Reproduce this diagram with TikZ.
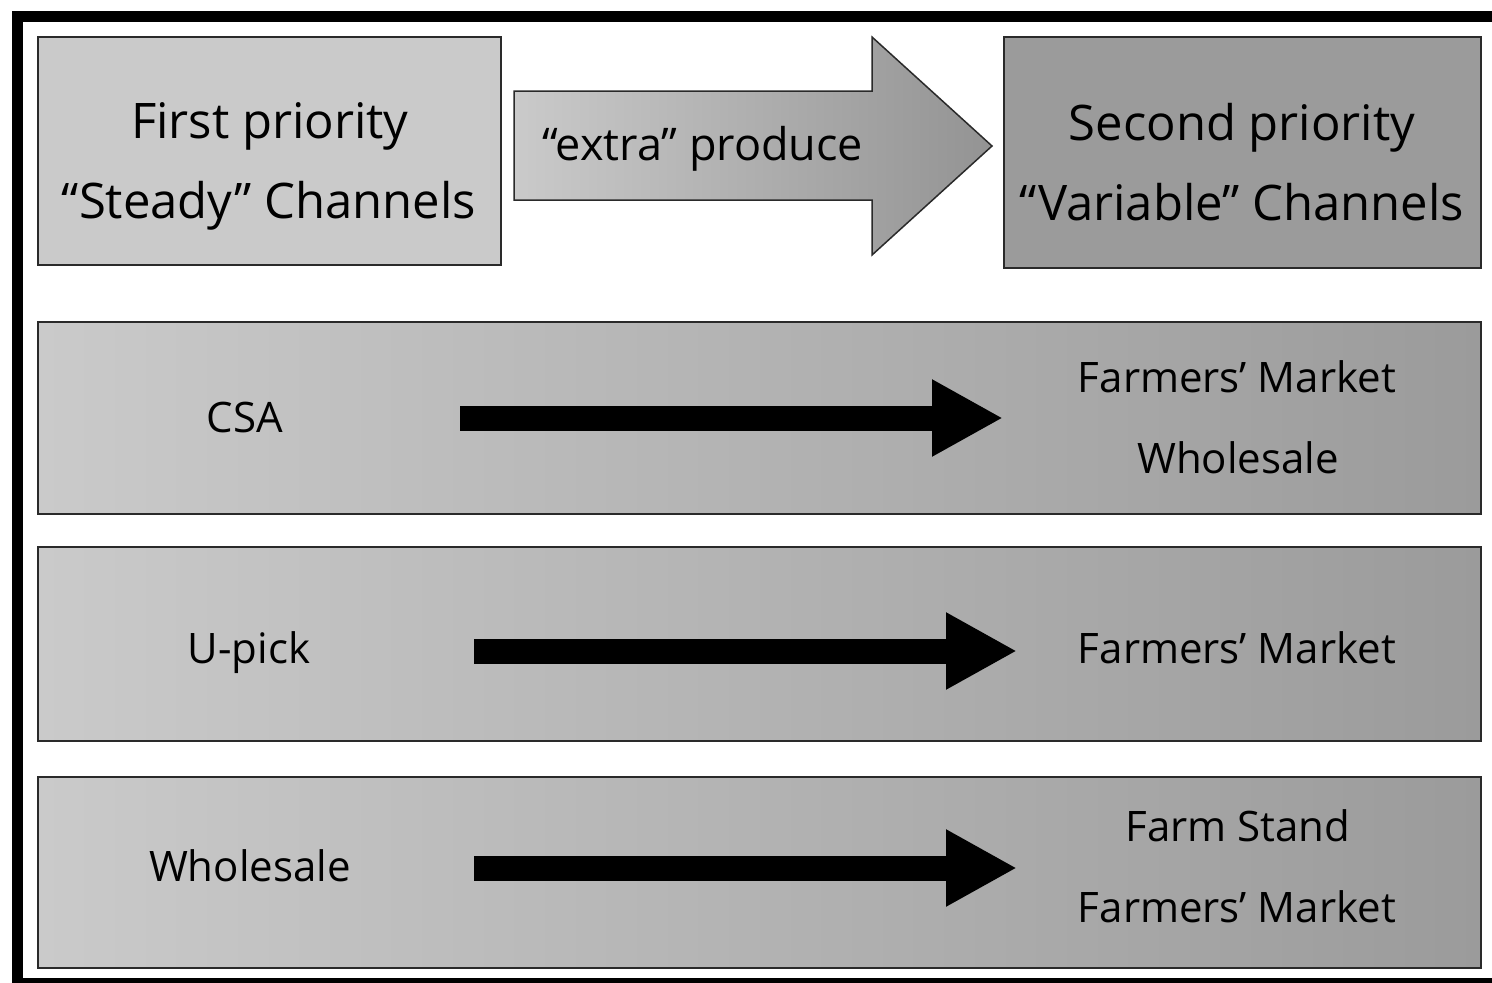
\documentclass[tikz,border=0pt]{standalone}
\usepackage{fontspec}
\setmainfont{Open Sans}
\usetikzlibrary{arrows.meta}

\definecolor{lightfill}{HTML}{CACACA}
\definecolor{darkfill}{HTML}{9B9B9B}
\definecolor{edgegray}{HTML}{2A2A2A}

\tikzset{
  panel/.style={draw=edgegray, line width=2pt},
  rowpanel/.style={panel, left color=lightfill, right color=darkfill, shading angle=90},
  headtext/.style={anchor=base, inner sep=0pt, font=\fontsize{49}{80}\selectfont},
  rowtext/.style={anchor=base, inner sep=0pt, font=\fontsize{42}{81}\selectfont},
  flowarrow/.style={line width=25pt, line cap=butt, -{Triangle[width=72pt, length=71pt]}},
}

\begin{document}
\begin{tikzpicture}[x=1pt, y=-1pt]
  \useasboundingbox (0,0) rectangle (1492,983);
  \clip (0,0) rectangle (1492,983);
  \fill[white] (0,0) rectangle (1492,983);

  % outer frame
  \draw[line width=11pt] (17,16) rectangle (1510,983);

  % header boxes
  \fill[lightfill] (38,37) rectangle (501,265);
  \draw[panel] (38,37) rectangle (501,265);
  \fill[darkfill] (1004,37) rectangle (1481,268);
  \draw[panel] (1004,37) rectangle (1481,268);

  % broad shaded arrow between the headers
  \shade[left color=lightfill, right color=darkfill!95!black]
    (514,91) -- (872,91) -- (872,37) -- (992,146) -- (872,255) -- (872,200) -- (514,200) -- cycle;
  \draw[panel, line width=1.5pt, line join=miter]
    (514,91) -- (872,91) -- (872,37) -- (992,146) -- (872,255) -- (872,200) -- (514,200) -- cycle;

  \node[headtext] (first1) at (270,138) {First priority};
  \node[headtext] (first2) at (269,218) {“Steady” Channels};
  \node[headtext, font=\fontsize{45}{60}\selectfont] (extra) at (703,160) {“extra” produce};
  \node[headtext] (second1) at (1242,140) {Second priority};
  \node[headtext] (second2) at (1242,220) {“Variable” Channels};

  % channel rows
  \shade[rowpanel] (38,322) rectangle (1481,514);
  \shade[rowpanel] (38,547) rectangle (1481,741);
  \shade[rowpanel] (38,777) rectangle (1481,968);
  \draw[panel] (38,322) rectangle (1481,514);
  \draw[panel] (38,547) rectangle (1481,741);
  \draw[panel] (38,777) rectangle (1481,968);

  % row 1
  \node[rowtext] (csa) at (245,432) {CSA};
  \node[rowtext] (fm1) at (1237,392) {Farmers’ Market};
  \node[rowtext] (ws1) at (1238,473) {Wholesale};
  \coordinate (a1s) at (460,418);
  \coordinate (a1e) at (1003,418);
  \draw[flowarrow] (a1s) -- (a1e);

  % row 2
  \node[rowtext] (upick) at (249,663) {U-pick};
  \node[rowtext] (fm2) at (1237,663) {Farmers’ Market};
  \coordinate (a2s) at (474,651);
  \coordinate (a2e) at (1017,651);
  \draw[flowarrow] (a2s) -- (a2e);

  % row 3
  \node[rowtext] (ws3) at (250,881) {Wholesale};
  \node[rowtext] (fs3) at (1238,841) {Farm Stand};
  \node[rowtext] (fm3) at (1237,922) {Farmers’ Market};
  \coordinate (a3s) at (474,868);
  \coordinate (a3e) at (1017,868);
  \draw[flowarrow] (a3s) -- (a3e);
\end{tikzpicture}
\end{document}
